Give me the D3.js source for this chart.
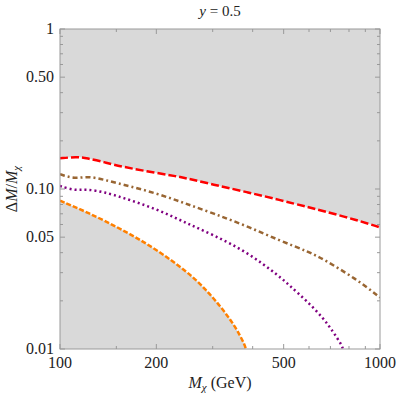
<!DOCTYPE html>
<html>
<head>
<meta charset="utf-8">
<script src="https://cdn.jsdelivr.net/npm/d3@7"></script>
<style>
  body { margin: 0; background: #fff; }
</style>
</head>
<body>
<div id="chart"></div>
<script>
// curve data (M in GeV, dM/M)
const redM   = [100, 112.8, 121.2, 138.2, 155.9, 198.1, 242.9, 301.3, 383, 487, 597, 665, 845, 1000];
const redDM  = [0.1555, 0.159, 0.156, 0.1468, 0.1378, 0.1264, 0.1184, 0.1064, 0.0958, 0.0853, 0.0769, 0.0729, 0.064, 0.0576];
const brownM  = [100, 111.4, 122.6, 138.2, 155.9, 198.1, 242.9, 301.3, 383, 487, 597, 665, 845, 1000];
const brownDM = [0.1236, 0.1155, 0.1206, 0.1138, 0.107, 0.0948, 0.082, 0.0705, 0.0587, 0.0475, 0.0406, 0.0365, 0.0273, 0.021];
const purpleM  = [100, 111.4, 121.2, 138.2, 155.9, 198.1, 242.9, 301.3, 383, 487, 523, 590, 665, 714, 759, 766];
const purpleDM = [0.1044, 0.0976, 0.100, 0.0954, 0.0887, 0.0757, 0.0625, 0.0516, 0.0406, 0.0283, 0.0248, 0.020, 0.0156, 0.0128, 0.0106, 0.010];
const orangeM  = [100, 122.6, 155.9, 198.1, 251.8, 283.8, 320.1, 352.3, 378.5, 380.4];
const orangeDM = [0.0845, 0.0711, 0.056, 0.0426, 0.030, 0.0239, 0.0181, 0.0139, 0.0106, 0.010];

const xTickVals = [100, 150, 200, 300, 400, 500, 600, 700, 800, 900, 1000];
const xTickLabels = { 100: "100", 200: "200", 500: "500", 1000: "1000" };
const yTickVals = [0.01, 0.02, 0.03, 0.04, 0.05, 0.06, 0.07, 0.08, 0.09, 0.1, 0.2, 0.3, 0.4, 0.5, 0.6, 0.7, 0.8, 0.9, 1];
const yTickLabels = { 0.01: "0.01", 0.05: "0.05", 0.1: "0.10", 0.5: "0.50", 1: "1" };

const width = 397, height = 400;
const margin = { top: 29, right: 17, bottom: 51, left: 60 };
const iw = width - margin.left - margin.right;
const ih = height - margin.top - margin.bottom;

const svg = d3.select("#chart").append("svg")
    .attr("width", width)
    .attr("height", height)
    .attr("font-family", "'Liberation Serif', 'Times New Roman', serif")
    .style("font-family", "'Liberation Serif', 'Times New Roman', serif");

const x = d3.scaleLog().domain([100, 1000]).range([margin.left, margin.left + iw]);
const y = d3.scaleLog().domain([0.01, 1]).range([margin.top + ih, margin.top]);

const zip = (xs, ys) => xs.map((v, k) => [v, ys[k]]);
const line = d3.line().x(d => x(d[0])).y(d => y(d[1])).curve(d3.curveBasis);

svg.append("clipPath").attr("id", "clip")
  .append("rect").attr("x", margin.left).attr("y", margin.top).attr("width", iw).attr("height", ih);

const plot = svg.append("g").attr("clip-path", "url(#clip)");

// shaded excluded regions
const upper = d3.area().x(d => x(d[0])).y0(y(1)).y1(d => y(d[1])).curve(d3.curveBasis);
const lower = d3.area().x(d => x(d[0])).y0(y(0.01)).y1(d => y(d[1])).curve(d3.curveBasis);

plot.append("path").datum(zip(redM, redDM)).attr("d", upper).attr("fill", "#d9d9d9");
plot.append("path").datum(zip(orangeM, orangeDM)).attr("d", lower).attr("fill", "#d9d9d9");

const curves = [
    { m: orangeM, dm: orangeDM, color: "#ff8000", dash: "5,2" },
    { m: purpleM, dm: purpleDM, color: "#800080", dash: "2,3" },
    { m: brownM, dm: brownDM, color: "#996633", dash: "5,3,2,3" },
    { m: redM, dm: redDM, color: "#ff0000", dash: "8,3" }
];

curves.forEach(c => {
    plot.append("path")
        .datum(zip(c.m, c.dm))
        .attr("d", line)
        .attr("fill", "none")
        .attr("stroke", c.color)
        .attr("stroke-width", 2.5)
        .attr("stroke-dasharray", c.dash);
});

// frame
svg.append("rect")
    .attr("x", margin.left).attr("y", margin.top)
    .attr("width", iw).attr("height", ih)
    .attr("fill", "none").attr("stroke", "#999").attr("stroke-width", 1);

// ticks (inward, all four sides)
const tickColor = "#999";
xTickVals.forEach(v => {
    const len = xTickLabels[v] ? 5 : 3;
    svg.append("line").attr("x1", x(v)).attr("x2", x(v))
        .attr("y1", y(0.01)).attr("y2", y(0.01) - len).attr("stroke", tickColor);
    svg.append("line").attr("x1", x(v)).attr("x2", x(v))
        .attr("y1", y(1)).attr("y2", y(1) + len).attr("stroke", tickColor);
    if (xTickLabels[v]) {
        svg.append("text").attr("x", x(v)).attr("y", y(0.01) + 19)
            .attr("text-anchor", "middle").attr("font-size", 16).attr("fill", "#222")
            .text(xTickLabels[v]);
    }
});
yTickVals.forEach(v => {
    const len = yTickLabels[v] ? 5 : 3;
    svg.append("line").attr("y1", y(v)).attr("y2", y(v))
        .attr("x1", x(100)).attr("x2", x(100) + len).attr("stroke", tickColor);
    svg.append("line").attr("y1", y(v)).attr("y2", y(v))
        .attr("x1", x(1000)).attr("x2", x(1000) - len).attr("stroke", tickColor);
    if (yTickLabels[v]) {
        svg.append("text").attr("x", x(100) - 6).attr("y", y(v) + 5)
            .attr("text-anchor", "end").attr("font-size", 16).attr("fill", "#222")
            .text(yTickLabels[v]);
    }
});

// title
const title = svg.append("text").attr("x", margin.left + iw / 2).attr("y", 16)
    .attr("text-anchor", "middle").attr("font-size", 15).attr("fill", "#222");
title.append("tspan").attr("font-style", "italic").text("y");
title.append("tspan").text(" = 0.5");

// x label
const xl = svg.append("text").attr("x", margin.left + iw / 2).attr("y", 388)
    .attr("text-anchor", "middle").attr("font-size", 16).attr("fill", "#222");
xl.append("tspan").attr("font-style", "italic").text("M");
xl.append("tspan").attr("font-style", "italic").attr("font-size", 11).attr("dy", 3).text("χ");
xl.append("tspan").attr("dy", -3).text(" (GeV)");

// y label
const yl = svg.append("text")
    .attr("transform", `translate(17,${margin.top + ih / 2}) rotate(-90)`)
    .attr("text-anchor", "middle").attr("font-size", 16).attr("fill", "#222");
yl.append("tspan").text("Δ");
yl.append("tspan").attr("font-style", "italic").text("M");
yl.append("tspan").text("/");
yl.append("tspan").attr("font-style", "italic").text("M");
yl.append("tspan").attr("font-style", "italic").attr("font-size", 11).attr("dy", 3).text("χ");
</script>
</body>
</html>
